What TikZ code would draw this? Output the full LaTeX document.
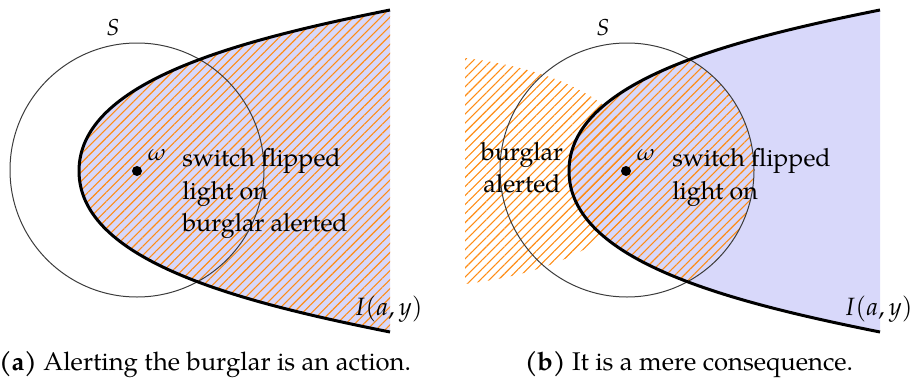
\documentclass[tikz,border=0pt]{standalone}
\usepackage{mathpazo}
\usepackage{fontspec}
\setmainfont{TeX Gyre Pagella}
\usetikzlibrary{patterns.meta}
\definecolor{hatchorange}{RGB}{255,140,20}
\definecolor{regionblue}{RGB}{216,216,250}
\definecolor{circlegray}{RGB}{60,60,60}
\tikzset{
  hatch/.style={pattern={Lines[angle=45,distance=3.2pt,line width=0.55pt]}, pattern color=hatchorange},
  bluefill/.style={fill=regionblue},
  boundary/.style={draw=black, line width=1.5pt},
  setcircle/.style={draw=circlegray, line width=0.5pt},
  lbl/.style={font=\fontsize{12.5}{15}\selectfont, inner sep=0pt},
  smalllbl/.style={font=\fontsize{11.5}{13}\selectfont, inner sep=0pt},
  caplbl/.style={font=\fontsize{12.8}{15}\selectfont, inner sep=0pt},
}
\begin{document}
\begin{tikzpicture}[x=0.5pt,y=-0.5pt]
\useasboundingbox (0,0) rectangle (915,380);
% ---------------- panel (a)
\fill[bluefill] (390,10) .. controls (240,40) and (79,81) .. (79,171) .. controls (79,261) and (240,302) .. (390,332) -- cycle;
\fill[hatch] (390,10) .. controls (240,40) and (79,81) .. (79,171) .. controls (79,261) and (240,302) .. (390,332) -- cycle;
\draw[setcircle] (137,170) circle[radius=63.5pt];
\draw[boundary] (390,10) .. controls (240,40) and (79,81) .. (79,171) .. controls (79,261) and (240,302) .. (390,332);
\fill (137,171) circle[radius=2.5pt];
\node[smalllbl] (Sa) at (113,28) {$S$};
\node[smalllbl] (wa) at (157,155) {$\omega$};
\node[lbl, anchor=base west] (a1) at (182,166) {switch flipped};
\node[lbl, anchor=base west] (a2) at (182,199) {light on};
\node[lbl, anchor=base west] (a3) at (182,231) {burglar alerted};
\node[lbl, anchor=base east] (Ia) at (423,315) {$I(a,y)$};
\node[caplbl, anchor=base] (capa) at (205,370) {\textbf{(a)} Alerting the burglar is an action.};
% ---------------- panel (b)
\begin{scope}[shift={(490,0)}]
\fill[bluefill] (390,10) .. controls (240,40) and (79,81) .. (79,171) .. controls (79,261) and (240,302) .. (390,332) -- cycle;
\begin{scope}
\clip (390,10) .. controls (240,40) and (79,81) .. (79,171) .. controls (79,261) and (240,302) .. (390,332) -- cycle;
\fill[hatch] (137,170) circle[radius=63.5pt];
\end{scope}
\fill[hatch] (-25,58) .. controls (40,66) and (100,85) .. (135,125) .. controls (155,150) and (155,192) .. (135,217) .. controls (100,257) and (40,276) .. (-25,284) -- cycle;
\draw[setcircle] (137,170) circle[radius=63.5pt];
\draw[boundary] (390,10) .. controls (240,40) and (79,81) .. (79,171) .. controls (79,261) and (240,302) .. (390,332);
\fill (136,171) circle[radius=2.5pt];
\node[smalllbl] (Sb) at (113,28) {$S$};
\node[smalllbl] (wb) at (156,155) {$\omega$};
\node[lbl, anchor=base west] (b1) at (182,166) {switch flipped};
\node[lbl, anchor=base west] (b2) at (182,199) {light on};
\node[lbl, anchor=base] (b3) at (32,160) {burglar};
\node[lbl, anchor=base] (b4) at (32,192) {alerted};
\node[lbl, anchor=base east] (Ib) at (423,315) {$I(a,y)$};
\node[caplbl, anchor=base] (capb) at (199,370) {\textbf{(b)} It is a mere consequence.};
\end{scope}
\end{tikzpicture}
\end{document}
